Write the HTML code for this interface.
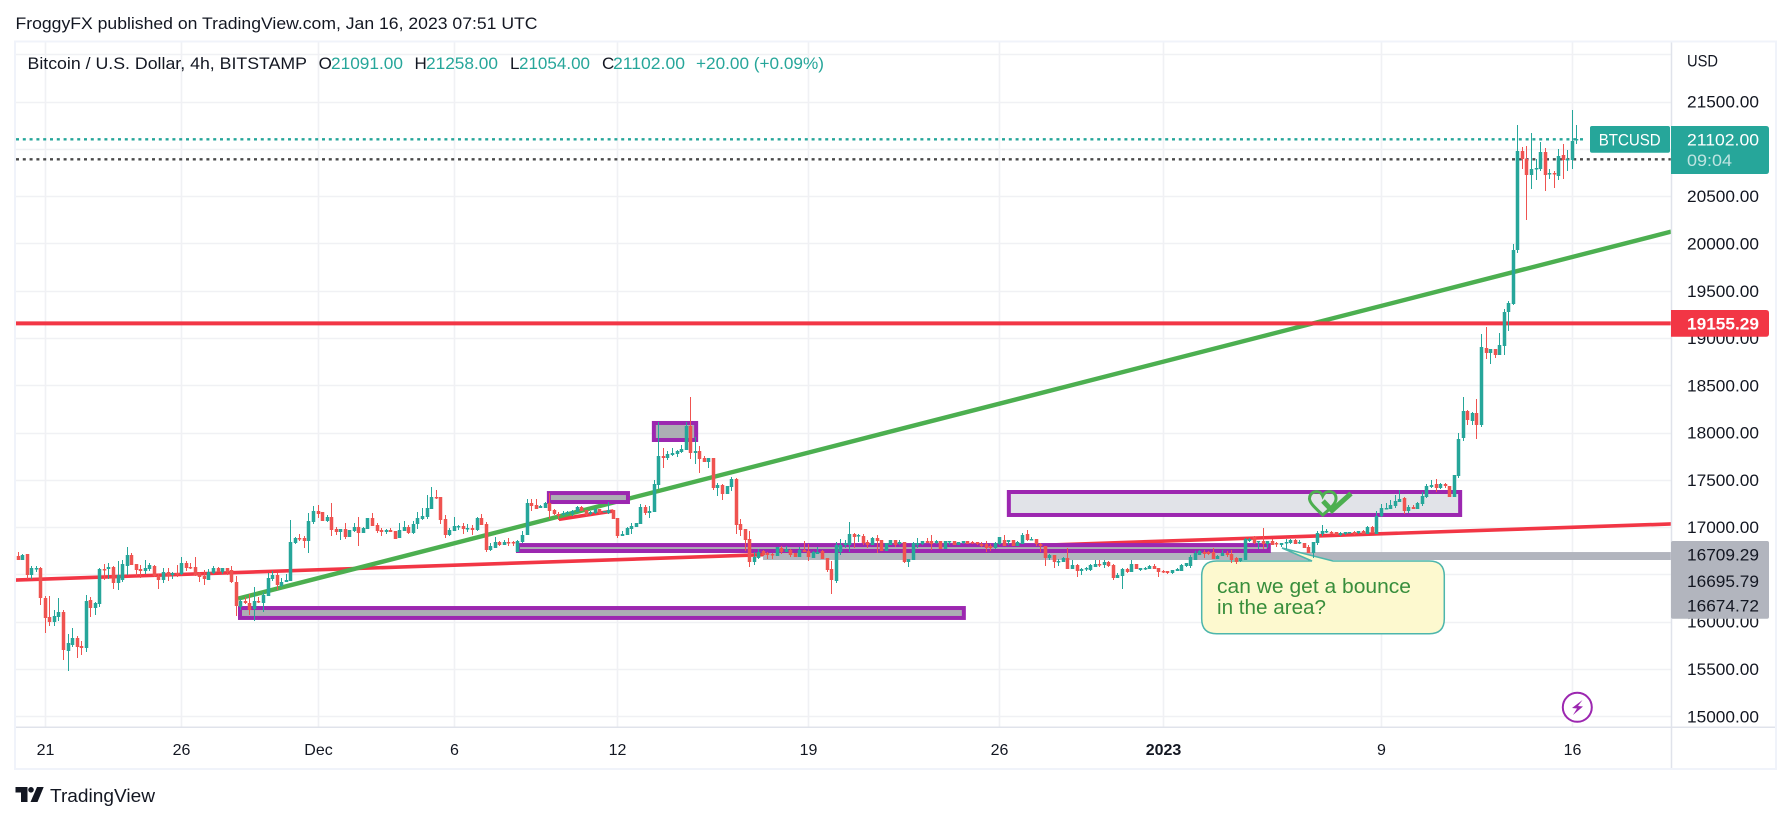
<!DOCTYPE html>
<html lang="en">
<head>
<meta charset="utf-8">
<title>BTCUSD 4h chart</title>
<style>
html,body{margin:0;padding:0;background:#fff;width:1791px;height:822px;overflow:hidden}
svg{display:block}
text{font-family:"Liberation Sans",sans-serif}
</style>
</head>
<body>
<svg id="chart" xmlns="http://www.w3.org/2000/svg" width="1791" height="822" viewBox="0 0 1791 822">
  <rect x="0" y="0" width="1791" height="822" fill="#ffffff"/>
  <text x="15.5" y="29" font-size="17" fill="#131722" textLength="522" lengthAdjust="spacingAndGlyphs">FroggyFX published on TradingView.com, Jan 16, 2023 07:51 UTC</text>
  <g id="grid"></g>
  <g id="lines"></g>
  <g id="bands"></g>
  <g id="zones"></g>
  <g id="dotted"></g>
  <g>
    <path d="M1216.7 561 H1312 L1282 548 L1333 561 H1429.3 Q1444.3 561 1444.3 576 V618.7 Q1444.3 633.7 1429.3 633.7 H1216.7 Q1201.7 633.7 1201.7 618.7 V576 Q1201.7 561 1216.7 561 Z" fill="#fdf9cf" stroke="#4db6ac" stroke-width="1.5"/>
    <text x="1217" y="593" font-size="20.5" fill="#388e3c" textLength="194" lengthAdjust="spacingAndGlyphs">can we get a bounce</text>
    <text x="1217" y="614" font-size="20.5" fill="#388e3c" textLength="109" lengthAdjust="spacingAndGlyphs">in the area?</text>
  </g>
  <g>
    <path d="M1322.7 515 C1314 507 1309 502 1309.5 498 C1310 491 1320 489 1322.7 496 C1326 489 1336 491 1336 498 C1336.5 503 1331 508 1322.7 515 Z" fill="none" stroke="#4caf50" stroke-width="3"/>
    <polyline points="1323,501 1332,510.5 1351,493.5" fill="none" stroke="#4caf50" stroke-width="5"/>
  </g>
  <g>
    <circle cx="1577.3" cy="707.3" r="14.5" fill="#ffffff" stroke="#9c27b0" stroke-width="2"/>
    <path d="M1582.5 700 L1572 708 L1577 708.5 L1573 715 L1583 706.5 L1578 706 Z" fill="#9c27b0"/>
  </g>
  <g id="candles"></g>
  <rect x="1672" y="43" width="103" height="684" fill="#ffffff"/>
  <rect x="16" y="728" width="1759" height="40" fill="#ffffff"/>
  <line x1="1671.5" y1="42" x2="1671.5" y2="768" stroke="#e0e3eb" stroke-width="1.5"/>
  <line x1="16" y1="727.3" x2="1775" y2="727.3" stroke="#e0e3eb" stroke-width="1.5"/>
  <rect x="15" y="41.5" width="1761" height="727.5" fill="none" stroke="#f0f3fa" stroke-width="2"/>
  <g id="priceAxis"></g>
  <g id="timeAxis"></g>
  <text x="1687" y="66.5" font-size="17" fill="#131722" textLength="31" lengthAdjust="spacingAndGlyphs">USD</text>
  <g>
    <rect x="1590" y="126" width="80" height="26.7" rx="2" fill="#26a69a"/>
    <text x="1598.7" y="145.5" font-size="17" fill="#ffffff" textLength="62" lengthAdjust="spacingAndGlyphs">BTCUSD</text>
    <path d="M1671 126 H1766 Q1769 126 1769 129 V171 Q1769 174 1766 174 H1671 Z" fill="#26a69a"/>
    <text id="lastPriceText" x="1687" y="145.5" font-size="17" fill="#ffffff" textLength="72" lengthAdjust="spacingAndGlyphs">21102.00</text>
    <text x="1687" y="166" font-size="17" fill="#ffffff" fill-opacity="0.7" textLength="45" lengthAdjust="spacingAndGlyphs">09:04</text>
  </g>
  <g>
    <path d="M1671 310 H1766 Q1769 310 1769 313 V333.7 Q1769 336.7 1766 336.7 H1671 Z" fill="#f23645"/>
    <text x="1687" y="329.5" font-size="17" font-weight="bold" fill="#ffffff" textLength="72" lengthAdjust="spacingAndGlyphs">19155.29</text>
  </g>
  <g>
    <rect x="1671" y="541" width="98" height="77.7" rx="2" fill="#b2b5be"/>
    <text x="1687" y="560.7" font-size="17" fill="#131722" textLength="72" lengthAdjust="spacingAndGlyphs">16709.29</text>
    <text x="1687" y="587" font-size="17" fill="#131722" textLength="72" lengthAdjust="spacingAndGlyphs">16695.79</text>
    <text x="1687" y="611.7" font-size="17" fill="#131722" textLength="72" lengthAdjust="spacingAndGlyphs">16674.72</text>
  </g>
  <g>
    <text x="27.5" y="69" font-size="17" fill="#131722" textLength="279.5" lengthAdjust="spacingAndGlyphs">Bitcoin / U.S. Dollar, 4h, BITSTAMP</text>
    <text x="318.6" y="69" font-size="17" fill="#131722">O</text>
    <text x="331" y="69" font-size="17" fill="#26a69a" textLength="72" lengthAdjust="spacingAndGlyphs">21091.00</text>
    <text x="414.5" y="69" font-size="17" fill="#131722">H</text>
    <text x="426" y="69" font-size="17" fill="#26a69a" textLength="72" lengthAdjust="spacingAndGlyphs">21258.00</text>
    <text x="510" y="69" font-size="17" fill="#131722">L</text>
    <text x="519" y="69" font-size="17" fill="#26a69a" textLength="71" lengthAdjust="spacingAndGlyphs">21054.00</text>
    <text x="602" y="69" font-size="17" fill="#131722">C</text>
    <text x="613" y="69" font-size="17" fill="#26a69a" textLength="72" lengthAdjust="spacingAndGlyphs">21102.00</text>
    <text x="696" y="69" font-size="17" fill="#26a69a" textLength="128" lengthAdjust="spacingAndGlyphs">+20.00 (+0.09%)</text>
  </g>
  <g>
    <path d="M15.5 787 H27.5 V802 H21 V792.5 H15.5 Z" fill="#131722"/>
    <circle cx="31" cy="789.8" r="2.8" fill="#131722"/>
    <path d="M37 787 H43.7 L37.5 802 H30.5 Z" fill="#131722"/>
    <text x="50" y="802" font-size="18.5" fill="#131722" textLength="105" lengthAdjust="spacingAndGlyphs">TradingView</text>
  </g>
</svg>
<script>
// ---- axis data ----
const firstBar = -6;
const priceGridTicks = [15000,15500,16000,16500,17000,17500,18000,18500,19000,19500,20000,20500,21000,21500,22000];
const priceTickLabels = [15000,15500,16000,16500,17000,17500,18000,18500,19000,19500,20000,20500,21000,21500];
const timeTickBars = [0,30,60,90,126,168,210,246,294,336];
const timeTickLabels = ['21','26','Dec','6','12','19','26','2023','9','16'];
const boldTimeLabels = ['2023'];

// ---- series data (4h bars, first bar index = firstBar) ----
const opens = [
16696,16654,16717,16495,16562,16569,
16256,16051,15998,16051,16104,15692,15755,15829,15745,15723,
16231,16146,16189,16559,16559,16580,16411,16443,16590,16707,
16612,16559,16538,16559,16590,16485,16443,16527,16495,16517,
16506,16622,16580,16580,16517,16485,16443,16517,16569,16527,
16569,16548,16421,16157,16220,16199,16136,16220,16199,16273,
16453,16495,16379,16421,16432,16834,16887,16887,16855,17056,
17172,17162,17066,17109,16982,16950,16982,16897,16961,17003,
16940,16982,17098,17024,16971,16950,16971,16961,16887,16961,
17003,16940,17035,17088,17109,17193,17320,17320,17088,16918,
16961,17003,17014,16982,16992,16971,17098,17035,16760,16781,
16845,16813,16845,16845,16739,16845,16919,17257,17236,17204,
17204,17257,17183,17141,17130,17141,17141,17162,17215,17183,
17141,17152,17194,17162,17152,17183,17099,16908,16919,16982,
17003,17035,17215,17152,17162,17448,17754,17733,17765,17775,
17797,17818,18072,17786,17807,17733,17691,17733,17416,17448,
17352,17426,17511,17035,16982,16877,16633,16676,16750,16729,
16718,16697,16781,16739,16760,16729,16686,16760,16750,16676,
16718,16750,16676,16559,16432,16739,16813,16813,16929,16908,
16908,16845,16813,16887,16866,16750,16813,16866,16824,16845,
16633,16654,16813,16824,16855,16855,16834,16855,16771,16845,
16855,16813,16834,16855,16845,16845,16823,16823,16802,16781,
16823,16866,16845,16866,16802,16823,16929,16866,16876,16823,
16802,16675,16707,16633,16633,16675,16559,16601,16538,16559,
16548,16580,16612,16601,16633,16601,16464,16485,16559,16527,
16612,16548,16559,16559,16591,16570,16538,16538,16517,16538,
16538,16591,16591,16654,16707,16739,16739,16739,16665,16697,
16728,16718,16675,16644,16654,16855,16897,16845,16855,16823,
16855,16834,16813,16834,16834,16866,16834,16834,16792,16728,
16834,16929,16950,16950,16950,16919,16929,16940,16950,16940,
16961,16929,17003,16929,17120,17194,17194,17225,17268,17306,
17172,17214,17193,17246,17320,17425,17457,17415,17457,17436,
17320,17542,17944,18229,18123,18208,18081,18895,18843,18885,
18821,18917,19276,19358,19929,20976,20892,20722,20786,20786,
20966,20733,20743,20712,20934,20881,20881,21091];
const highs = [
16739,16717,16717,16590,16594,16576,
16273,16273,16125,16252,16125,15871,15935,15850,15797,16284,
16263,16210,16569,16612,16622,16591,16643,16654,16791,16728,
16612,16601,16654,16622,16601,16506,16569,16569,16527,16601,
16686,16643,16622,16686,16527,16548,16559,16590,16580,16569,
16569,16590,16485,16242,16263,16294,16368,16263,16316,16517,
16538,16517,16464,16506,17077,16897,16929,16908,17151,17225,
17236,17162,17130,17257,17003,16982,17045,16971,17045,17109,
17003,17098,17151,17045,16992,16982,16992,16961,17045,17066,
17024,17066,17162,17204,17341,17426,17394,17320,17130,16992,
17109,17024,17045,17035,17024,17109,17140,17056,16834,16897,
16855,16866,16887,16855,16866,16961,17300,17300,17300,17236,
17268,17363,17194,17162,17173,17173,17183,17226,17226,17183,
17173,17204,17194,17173,17268,17183,17099,16961,17003,17046,
17046,17247,17236,17226,17501,18114,17839,17807,17839,17818,
17871,18114,18378,17955,17860,17754,17733,17733,17469,17458,
17437,17532,17522,17088,16982,16961,16739,16771,16760,16739,
16729,16792,16803,16803,16771,16729,16792,16855,16824,16750,
16792,16760,16676,16644,16845,16877,16866,17056,16940,16929,
16929,16866,16898,16919,16866,16834,16866,16866,16866,16845,
16665,16845,16887,16855,16887,16919,16866,16855,16855,16855,
16855,16845,16855,16855,16855,16845,16840,16855,16823,16845,
16897,16919,16866,16866,16855,16940,16971,16897,16876,16834,
16802,16718,16707,16665,16686,16781,16654,16612,16570,16580,
16612,16654,16654,16654,16644,16612,16517,16570,16570,16654,
16612,16570,16580,16601,16612,16570,16548,16538,16548,16570,
16612,16623,16707,16749,16760,16760,16749,16781,16707,16760,
16749,16760,16686,16675,16887,16887,16908,16855,16993,16855,
16876,16845,16834,16876,16876,16876,16866,16834,16813,16845,
16961,17024,16982,16961,16950,16950,16950,16950,16961,16961,
16971,17014,17014,17172,17246,17257,17289,17342,17395,17320,
17235,17235,17267,17373,17457,17500,17510,17468,17468,17436,
17552,17997,18377,18240,18219,18356,19043,19117,18885,18885,
19054,19308,19392,19993,21251,21018,21029,21167,20892,21071,
21008,20786,20765,20997,21050,20987,21410,21258];
const lows = [
16654,16654,16450,16450,16527,16178,
15882,15960,15960,16009,15596,15480,15734,15618,15649,15681,
16051,16072,16157,16442,16453,16347,16337,16421,16495,16601,
16485,16464,16506,16538,16474,16347,16411,16432,16453,16474,
16495,16538,16559,16485,16421,16390,16443,16506,16527,16506,
16495,16411,16062,16125,16189,16072,16009,16199,16104,16273,
16432,16337,16368,16421,16432,16823,16855,16781,16728,17035,
17098,17066,17056,16908,16918,16866,16876,16897,16950,16802,
16940,16982,17014,16940,16908,16929,16950,16876,16887,16961,
16929,16929,16982,17077,17088,17193,17299,17035,16887,16908,
16961,16971,16929,16950,16918,16961,17024,16739,16749,16781,
16803,16813,16803,16803,16739,16834,16919,17173,17194,17204,
17204,17088,17130,17078,17120,17130,17120,17162,17173,17120,
17130,17141,17141,17162,17141,17088,16887,16908,16919,16929,
17003,17035,17130,17099,17162,17405,17627,17712,17754,17744,
17786,17818,17723,17670,17575,17691,17627,17395,17331,17289,
17352,17384,16929,16908,16750,16580,16602,16665,16697,16665,
16665,16697,16718,16739,16686,16686,16686,16739,16644,16676,
16718,16665,16528,16295,16411,16707,16781,16739,16781,16845,
16813,16781,16813,16729,16750,16750,16813,16792,16813,16623,
16580,16654,16781,16813,16834,16760,16824,16771,16771,16813,
16813,16813,16824,16824,16824,16813,16790,16739,16749,16771,
16813,16802,16813,16802,16802,16823,16855,16866,16802,16739,
16591,16654,16570,16591,16633,16559,16559,16474,16496,16538,
16538,16580,16580,16570,16580,16443,16464,16348,16517,16527,
16559,16538,16548,16559,16559,16474,16517,16506,16506,16538,
16538,16580,16570,16654,16707,16675,16707,16665,16665,16697,
16686,16623,16612,16633,16654,16845,16823,16771,16771,16781,
16813,16792,16792,16771,16823,16823,16823,16781,16728,16675,
16813,16908,16940,16929,16919,16908,16919,16940,16919,16929,
16929,16929,16940,16929,17109,17194,17194,17204,17268,17140,
17150,17193,17193,17225,17309,17415,17373,17404,17415,17320,
17320,17521,17912,18081,18081,17933,18060,18779,18726,18790,
18821,18821,19075,19348,19897,20786,20247,20574,20670,20765,
20553,20680,20585,20670,20680,20765,20786,21054];
const closes = [
16654,16707,16495,16569,16573,16256,
16041,15998,16062,16104,15702,15776,15829,15734,15727,16220,
16146,16199,16559,16548,16580,16411,16495,16612,16707,16601,
16548,16538,16569,16601,16485,16443,16527,16485,16517,16506,
16622,16569,16566,16495,16474,16453,16527,16569,16527,16569,
16527,16421,16168,16220,16199,16125,16220,16210,16284,16464,
16495,16390,16421,16443,16844,16887,16876,16855,17066,17172,
17140,17066,17109,16971,16950,16982,16897,16971,17003,16940,
16992,17098,17014,16961,16950,16971,16950,16876,16971,17003,
16940,17035,17098,17119,17204,17320,17310,17077,16918,16971,
17014,17014,16982,16992,16971,17098,17024,16760,16802,16844,
16813,16845,16834,16834,16855,16919,17257,17226,17194,17226,
17257,17173,17141,17120,17152,17162,17173,17215,17173,17130,
17162,17194,17152,17173,17183,17088,16908,16929,16993,17014,
17046,17215,17152,17173,17458,17754,17733,17775,17786,17807,
17828,18072,17786,17807,17723,17691,17733,17416,17448,17352,
17437,17511,17025,16972,16866,16633,16686,16739,16707,16707,
16707,16792,16739,16771,16707,16686,16760,16739,16686,16739,
16739,16665,16549,16443,16813,16813,16834,16929,16898,16919,
16834,16813,16887,16855,16750,16834,16866,16813,16845,16633,
16665,16834,16834,16855,16834,16824,16855,16771,16855,16855,
16813,16845,16855,16824,16834,16824,16802,16781,16781,16834,
16897,16802,16866,16802,16845,16919,16866,16876,16823,16802,
16675,16707,16633,16644,16675,16559,16601,16538,16559,16570,
16601,16612,16601,16633,16591,16464,16496,16559,16527,16612,
16559,16570,16570,16591,16559,16527,16527,16517,16548,16559,
16601,16623,16686,16728,16749,16718,16718,16665,16697,16728,
16707,16654,16633,16675,16876,16876,16834,16855,16823,16855,
16813,16823,16834,16845,16866,16823,16845,16781,16728,16845,
16940,16961,16961,16940,16919,16940,16950,16950,16929,16961,
16929,17003,16940,17120,17204,17204,17236,17278,17299,17172,
17214,17193,17256,17330,17436,17447,17415,17457,17436,17320,
17552,17933,18229,18134,18208,18081,18906,18843,18885,18821,
18927,19276,19371,19929,20976,20892,20722,20786,20796,20966,
20722,20743,20733,20923,20881,20892,21082,21102];

// ---- drawing data (bar index / price) ----
const horizontalLevel = 19155.29;
const previousClose = 20890;
const greenTrendBars = [42.4, 357.7];
const greenTrendPrices = [16244, 20125];
const redTrendBars = [-6.65, 357.7];
const redTrendPrices = [16441, 17034];
const shortRedBars = [113, 125];
const shortRedPrices = [17083, 17171];
const greyBandBars = [157.9, 357.7];
const greyBandPrices = [16737, 16653];
const zoneNames = ['zone-long-lower','zone-middle-long','zone-small-left','zone-small-peak','zone-upper-wide'];
const zoneLeftBars = [42.84, 104, 110.8, 133.9, 212];
const zoneRightBars = [202.1, 269.2, 128.2, 143.2, 311.3];
const zoneTopPrices = [16145, 16811, 17361, 18102, 17372];
const zoneBottomPrices = [16040, 16748, 17266, 17922, 17129];
const zoneFills = ['#acaeb4','#acaeb4','#acaeb4','#acaeb4','#e1e3e8'];

// ---- axis functions ----
const xOfBar = b => 45.3 + b * 4.545;
const yOfPrice = p => 716.3 - (p - 15000) * 0.09456;
const plotLeft = 16, plotRight = 1671, plotTop = 42, plotBottom = 727;

const NS = 'http://www.w3.org/2000/svg';
function make(tag, attrs, parent) {
  const el = document.createElementNS(NS, tag);
  for (const k in attrs) el.setAttribute(k, attrs[k]);
  parent.appendChild(el);
  return el;
}
const gridG = document.getElementById('grid');
const bandsG = document.getElementById('bands');
const linesG = document.getElementById('lines');
const zonesG = document.getElementById('zones');
const dottedG = document.getElementById('dotted');
const candlesG = document.getElementById('candles');
const priceAxisG = document.getElementById('priceAxis');
const timeAxisG = document.getElementById('timeAxis');

priceGridTicks.forEach(p => {
  const y = Math.round(yOfPrice(p)) + 0.5;
  const el = make('line', {x1: plotLeft, x2: plotRight, y1: y, y2: y, stroke: '#f0f1f4', 'stroke-width': 1.6}, gridG);
  
  
});
timeTickBars.forEach(b => {
  const x = Math.floor(xOfBar(b)) + 0.5;
  const el = make('line', {x1: x, x2: x, y1: plotTop, y2: plotBottom, stroke: '#f0f1f4', 'stroke-width': 1.6}, gridG);
  
  
});

const band = make('rect', {
  x: xOfBar(greyBandBars[0]), width: xOfBar(greyBandBars[1]) - xOfBar(greyBandBars[0]),
  y: yOfPrice(greyBandPrices[0]), height: yOfPrice(greyBandPrices[1]) - yOfPrice(greyBandPrices[0]),
  fill: '#b2b5be'}, bandsG);



function trend(bars, prices, color, width) {
  return make('line', {x1: xOfBar(bars[0]), y1: yOfPrice(prices[0]), x2: xOfBar(bars[1]), y2: yOfPrice(prices[1]), stroke: color, 'stroke-width': width}, linesG);
}
const redLong = trend(redTrendBars, redTrendPrices, '#f23645', 3.6);


const redShort = trend(shortRedBars, shortRedPrices, '#f23645', 3.6);


const greenLine = trend(greenTrendBars, greenTrendPrices, '#4caf50', 4.4);


const redLevel = make('line', {x1: plotLeft, x2: plotRight, y1: yOfPrice(horizontalLevel), y2: yOfPrice(horizontalLevel), stroke: '#f23645', 'stroke-width': 4}, linesG);



zoneNames.forEach((name, i) => {
  const x1 = xOfBar(zoneLeftBars[i]), x2 = xOfBar(zoneRightBars[i]);
  const y1 = yOfPrice(zoneTopPrices[i]), y2 = yOfPrice(zoneBottomPrices[i]);
  const el = make('rect', {x: x1, y: y1, width: x2 - x1, height: y2 - y1, fill: zoneFills[i], stroke: '#9c27b0', 'stroke-width': 4}, zonesG);
  
  
});

const lastClose = closes[closes.length - 1];
const tealDots = make('line', {x1: plotLeft, x2: 1585, y1: yOfPrice(lastClose), y2: yOfPrice(lastClose), stroke: '#26a69a', 'stroke-width': 2.4, 'stroke-dasharray': '3 3.8'}, dottedG);


const greyDots = make('line', {x1: plotLeft, x2: plotRight, y1: yOfPrice(previousClose), y2: yOfPrice(previousClose), stroke: '#4a4a4a', 'stroke-width': 2.4, 'stroke-dasharray': '3 3.8'}, dottedG);



opens.forEach((o, i) => {
  const c = closes[i], h = highs[i], l = lows[i];
  const color = c >= o ? '#26a69a' : '#ef5350';
  const x = Math.floor(xOfBar(firstBar + i));
  const yTop = Math.round(yOfPrice(Math.max(o, c)));
  const yBot = Math.round(yOfPrice(Math.min(o, c)));
  const yH = Math.round(yOfPrice(h));
  const yL = Math.round(yOfPrice(l));
  const wick = make('rect', {x: x, y: yH, width: 1, height: Math.max(1, yL - yH), fill: color}, candlesG);
  
  
  const body = make('rect', {x: x - 1.25, y: yTop, width: 3.5, height: Math.max(1.5, yBot - yTop), fill: color}, candlesG);
  
  
});

priceTickLabels.forEach(p => {
  const t = make('text', {x: 1687, y: yOfPrice(p) + 6, 'font-size': 17, fill: '#131722', textLength: 72, lengthAdjust: 'spacingAndGlyphs'}, priceAxisG);
  t.textContent = p.toFixed(2);
  
  
});
timeTickBars.forEach((b, i) => {
  const label = timeTickLabels[i];
  const t = make('text', {x: Math.floor(xOfBar(b)) + 0.5, y: 755, 'font-size': 16, fill: '#131722', 'text-anchor': 'middle', 'font-weight': boldTimeLabels.includes(label) ? 'bold' : 'normal'}, timeAxisG);
  t.textContent = label;
  
  
});
document.getElementById('lastPriceText').textContent = lastClose.toFixed(2);
</script>
</body>
</html>
